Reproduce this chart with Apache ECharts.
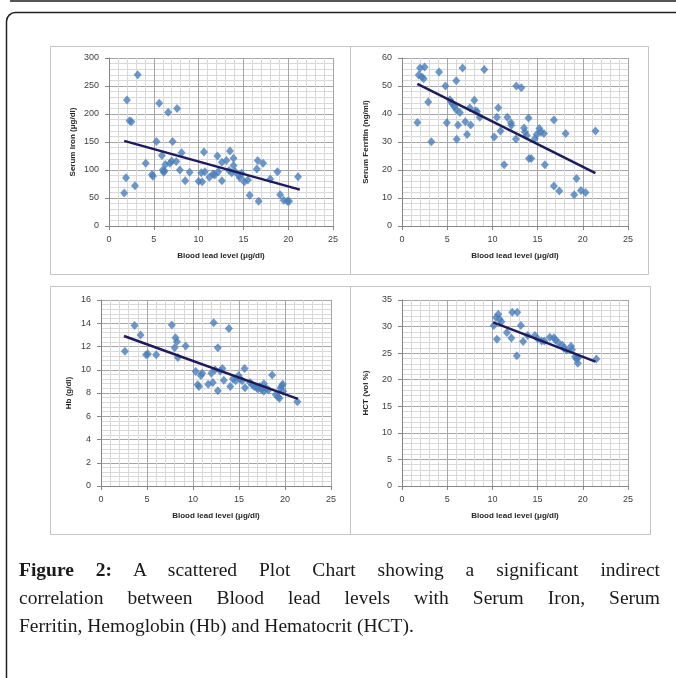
<!DOCTYPE html>
<html>
<head>
<meta charset="utf-8">
<title>Blood lead scatter</title>
<script src="https://cdn.jsdelivr.net/npm/echarts@6/dist/echarts.min.js"></script>
<style>
	html, body { margin: 0; padding: 0; background: #fff; }
	#chart { position: absolute; left: 0; top: 0; width: 676px; height: 678px; }
	#caption { position: absolute; left: 19px; top: 556px; width: 641px;
		font-family: "Liberation Serif", "DejaVu Serif", serif; font-size: 19.5px; color: #1a1a1a; line-height: 28px; }
	#caption div { text-align: justify; text-align-last: justify; white-space: nowrap; }
	#caption div.last { text-align-last: left; }
</style>
</head>
<body>
<div id="chart"></div>
<div id="caption">
	<div><b>Figure 2:</b> A scattered Plot Chart showing a significant indirect</div>
	<div>correlation between Blood lead levels with Serum Iron, Serum</div>
	<div class="last">Ferritin, Hemoglobin (Hb) and Hematocrit (HCT).</div>
</div>
<script>
// blood lead (ug/dl) vs serum iron (ug/dl)
var ironData = [
	[1.7, 59], [1.9, 86], [2.0, 225], [2.3, 188], [2.5, 186], [2.9, 72], [3.2, 270],
	[4.1, 112], [4.8, 92], [4.9, 89], [5.3, 151], [5.6, 219], [5.9, 126], [6.0, 100],
	[6.1, 96], [6.2, 98], [6.3, 110], [6.6, 203], [6.8, 112], [7.0, 116], [7.1, 151],
	[7.5, 115], [7.6, 210], [7.9, 100], [8.1, 131], [8.5, 81], [9.0, 96], [10.0, 80],
	[10.3, 95], [10.4, 79], [10.6, 132], [10.7, 97], [11.2, 87], [11.6, 93], [11.8, 91],
	[12.1, 125], [12.2, 97], [12.6, 81], [12.6, 114], [13.1, 117], [13.4, 99], [13.5, 134],
	[13.7, 95], [13.9, 121], [13.9, 108], [14.1, 97], [14.5, 90], [14.6, 86], [14.8, 94],
	[15.1, 79], [15.5, 82], [15.7, 55], [16.5, 102], [16.6, 117], [16.7, 44], [17.2, 112],
	[18.0, 84], [18.8, 97], [19.1, 56], [19.5, 46], [19.9, 44], [20.1, 44], [21.1, 88]
];
var ironTrend = [[1.7, 152], [21.3, 65]];

// blood lead vs serum ferritin (ng/ml)
var ferritinData = [
	[1.7, 37.0], [1.85, 53.9], [2.0, 56.4], [2.2, 53.2], [2.4, 52.6], [2.5, 56.8], [2.9, 44.3],
	[3.25, 30.1], [4.1, 55.0], [4.8, 50.0], [4.95, 36.9], [5.3, 45.1], [5.5, 44.1], [5.6, 43.5],
	[5.8, 42.7], [6.0, 41.5], [6.0, 51.9], [6.05, 31.0], [6.2, 36.1], [6.4, 40.5], [6.7, 56.4],
	[7.0, 37.2], [7.2, 32.7], [7.5, 42.2], [7.6, 36.1], [8.0, 44.9], [8.1, 41.2], [8.3, 40.9],
	[8.6, 38.8], [9.1, 55.9], [10.2, 31.8], [10.5, 38.8], [10.65, 42.2], [10.9, 33.9], [11.3, 21.9],
	[11.65, 38.8], [12.05, 36.9], [12.1, 36.0], [12.6, 31.1], [12.65, 50.0], [13.2, 49.4],
	[13.5, 35.0], [13.6, 33.6], [13.8, 32.3], [14.0, 38.6], [14.05, 24.1], [14.3, 24.1],
	[14.7, 31.2], [14.9, 32.7], [15.2, 34.8], [15.35, 33.6], [15.7, 33.0], [15.8, 21.9],
	[16.8, 37.9], [16.8, 14.3], [17.4, 12.5], [18.1, 33.0], [19.05, 11.2], [19.3, 17.0],
	[19.8, 12.7], [20.3, 12.0], [21.4, 33.9]
];
var ferritinTrend = [[1.7, 50.8], [21.4, 18.9]];

// blood lead vs hemoglobin (g/dl)
var hbData = [
	[2.6, 11.6], [3.65, 13.8], [4.3, 13.0], [4.9, 11.3], [5.1, 11.35], [6.0, 11.3], [7.7, 13.85],
	[8.0, 11.9], [8.1, 12.75], [8.25, 12.4], [8.35, 11.05], [9.2, 12.05], [10.3, 9.85], [10.5, 8.7],
	[10.65, 8.55], [10.85, 9.5], [11.0, 9.7], [11.65, 8.75], [12.0, 9.7], [12.15, 8.9], [12.25, 14.05],
	[12.4, 10.0], [12.7, 11.9], [12.7, 8.2], [12.95, 9.9], [13.2, 10.1], [13.35, 9.1], [13.9, 13.55],
	[14.05, 8.55], [14.35, 9.2], [14.65, 9.05], [14.95, 9.5], [15.1, 9.2], [15.35, 9.05], [15.6, 10.1],
	[15.65, 8.45], [16.2, 8.9], [16.45, 8.7], [16.65, 8.55], [16.9, 8.5], [17.05, 8.35], [17.25, 8.55],
	[17.45, 8.3], [17.7, 8.8], [17.7, 8.15], [17.95, 8.4], [18.2, 8.25], [18.6, 9.55], [19.0, 7.85],
	[19.25, 7.65], [19.4, 7.55], [19.5, 8.4], [19.65, 8.6], [19.75, 8.75], [19.8, 8.15], [21.35, 7.25]
];
var hbTrend = [[2.5, 12.9], [21.4, 7.5]];

// blood lead vs hematocrit (vol %)
var hctData = [
	[10.15, 30.2], [10.4, 31.7], [10.5, 27.6], [10.65, 32.3], [10.8, 31.4], [11.0, 30.9],
	[11.6, 28.9], [12.1, 27.85], [12.2, 32.7], [12.7, 24.5], [12.75, 32.7], [13.15, 30.2],
	[13.4, 27.2], [13.9, 28.3], [14.7, 28.3], [15.0, 27.7], [15.45, 27.3], [15.75, 27.3],
	[16.35, 28.0], [16.8, 27.9], [16.95, 27.5], [17.3, 27.0], [17.75, 26.5], [17.9, 25.9],
	[18.2, 25.6], [18.7, 26.3], [18.8, 25.7], [19.15, 24.3], [19.3, 23.9], [19.45, 23.1],
	[19.5, 24.2], [21.5, 23.9]
];
var hctTrend = [[10.1, 30.8], [21.4, 23.4]];

var xTitle = 'Blood lead level (μg/dl)';
var yTitles = ['Serum Iron (μg/dl)', 'Serum Ferritin (ng/ml)', 'Hb (g/dl)', 'HCT (vol %)'];
var yMax = [300, 60, 16, 35];
var yStep = [50, 10, 2, 5];

var tickFont = { fontFamily: 'Liberation Sans', fontSize: 9, color: '#404040' };
var titleFont = { fontFamily: 'Liberation Sans', fontSize: 8, fontWeight: 'bold', color: '#262626' };

var grids = [
	{ left: 109, top: 58, width: 224, height: 168 },
	{ left: 402, top: 58, width: 226, height: 168 },
	{ left: 101, top: 300, width: 230, height: 186 },
	{ left: 402, top: 300, width: 226, height: 186 }
];

function xAxisFor(i) {
	return {
		gridIndex: i, type: 'value', min: 0, max: 25, interval: 5,
		name: xTitle, nameLocation: 'middle', nameGap: 26, nameTextStyle: titleFont,
		axisLine: { show: true, lineStyle: { color: '#868686' } },
		axisTick: { show: true, length: 4, lineStyle: { color: '#868686' } },
		axisLabel: Object.assign({ margin: 9 }, tickFont),
		splitLine: { show: true, lineStyle: { color: '#a6a6a6', width: 1 } },
		minorTick: { show: false, splitNumber: 5 },
		minorSplitLine: { show: true, lineStyle: { color: '#d9d9d9', width: 1 } }
	};
}
function yAxisFor(i) {
	return {
		gridIndex: i, type: 'value', min: 0, max: yMax[i], interval: yStep[i],
		name: yTitles[i], nameLocation: 'middle', nameGap: i === 2 ? 28 : 32, nameRotate: 90,
		nameTextStyle: titleFont,
		axisLine: { show: true, lineStyle: { color: '#868686' } },
		axisTick: { show: true, length: 4, lineStyle: { color: '#868686' } },
		axisLabel: Object.assign({ margin: 10 }, tickFont),
		splitLine: { show: true, lineStyle: { color: '#a6a6a6', width: 1 } },
		minorTick: { show: false, splitNumber: 5 },
		minorSplitLine: { show: true, lineStyle: { color: '#d9d9d9', width: 1 } }
	};
}

var pointSets = [ironData, ferritinData, hbData, hctData];
var trendSets = [ironTrend, ferritinTrend, hbTrend, hctTrend];

var series = [];
var xAxes = [], yAxes = [];
for (var i = 0; i < 4; i++) {
	xAxes.push(xAxisFor(i));
	yAxes.push(yAxisFor(i));
	series.push({
		type: 'scatter', xAxisIndex: i, yAxisIndex: i, data: pointSets[i],
		symbol: 'diamond', symbolSize: [8, 9],
		itemStyle: { color: '#4a7ebb' }, silent: true, z: 3
	});
	// trendline drawn over the markers, like excel does
	series.push({
		type: 'line', xAxisIndex: i, yAxisIndex: i, data: trendSets[i],
		symbol: 'none', lineStyle: { color: '#1d1b5b', width: 2.5 }, silent: true, z: 4
	});
}

var chart = echarts.init(document.getElementById('chart'));
chart.setOption({
	backgroundColor: '#fff',
	animation: false,
	grid: grids,
	xAxis: xAxes,
	yAxis: yAxes,
	series: series,
	graphic: [
		{ type: 'line', shape: { x1: 10, y1: 1, x2: 676, y2: 1 }, style: { stroke: '#555', lineWidth: 2 }, z: -1 },
		{ type: 'rect', shape: { x: 6.5, y: 12.5, width: 720, height: 720, r: 9 }, style: { fill: 'none', stroke: '#222', lineWidth: 1.5 }, z: -1 },
		{ type: 'rect', shape: { x: 50.5, y: 46.5, width: 300, height: 228 }, style: { fill: 'none', stroke: '#c4c4c4', lineWidth: 1 }, z: -1 },
		{ type: 'rect', shape: { x: 350.5, y: 46.5, width: 298, height: 228 }, style: { fill: 'none', stroke: '#c4c4c4', lineWidth: 1 }, z: -1 },
		{ type: 'rect', shape: { x: 50.5, y: 286.5, width: 300, height: 248 }, style: { fill: 'none', stroke: '#c4c4c4', lineWidth: 1 }, z: -1 },
		{ type: 'rect', shape: { x: 350.5, y: 286.5, width: 300, height: 248 }, style: { fill: 'none', stroke: '#c4c4c4', lineWidth: 1 }, z: -1 }
	]
});
</script>
</body>
</html>
